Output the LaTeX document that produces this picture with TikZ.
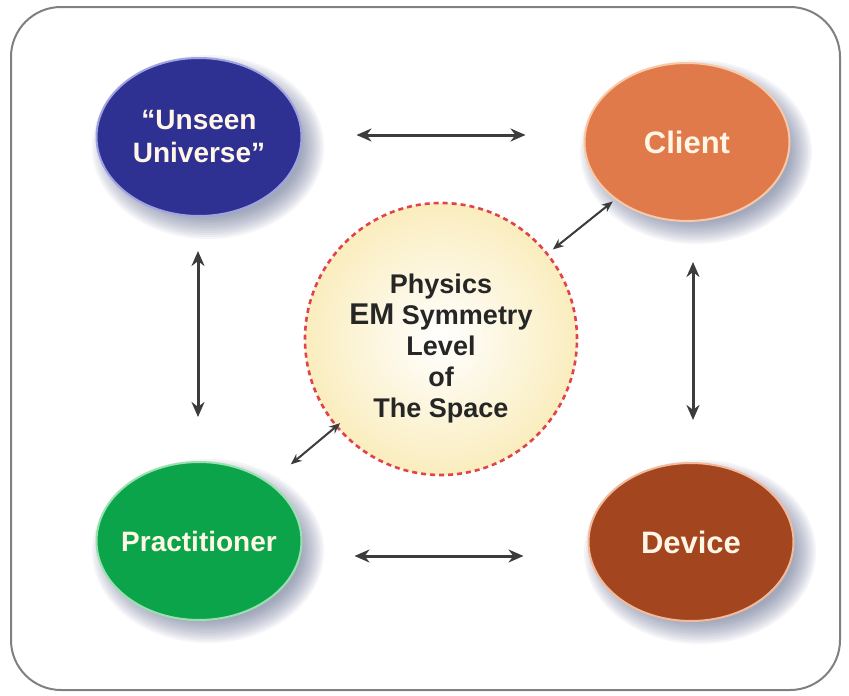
\documentclass[tikz,border=0pt]{standalone}
\usepackage{fontspec}
\setmainfont{Liberation Sans}
\usetikzlibrary{shapes.geometric,arrows.meta}
\definecolor{uublue}{HTML}{2E3192}
\definecolor{uuring}{HTML}{9FA3E0}
\definecolor{clorange}{HTML}{E07A4A}
\definecolor{clring}{HTML}{F8C9A8}
\definecolor{prgreen}{HTML}{0CA44B}
\definecolor{prring}{HTML}{9BE0B0}
\definecolor{dvbrown}{HTML}{A3461F}
\definecolor{dvring}{HTML}{F2B99A}
\definecolor{ccyellow}{HTML}{FAEDBE}
\definecolor{ccred}{HTML}{E2434A}
\definecolor{arrowgray}{HTML}{3C3C3C}
\definecolor{textcream}{HTML}{FFF6E6}
\definecolor{shadowcol}{HTML}{4A5A80}
\pgfdeclarelayer{bg}
\pgfsetlayers{bg,main}
\tikzset{
  bubble/.style={ellipse, minimum width=205pt, minimum height=158pt,
    inner xsep=-40pt, inner ysep=-20pt,
    line width=2pt, align=center, text=textcream,
    font=\fontsize{28}{33}\selectfont\bfseries},
  dart/.style={line width=3pt, draw=arrowgray,
    {Stealth[length=15pt,width=13pt]}-{Stealth[length=15pt,width=13pt]}},
  sdart/.style={line width=2pt, draw=arrowgray,
    {Stealth[length=11pt,width=9pt]}-{Stealth[length=11pt,width=9pt]}},
  frame/.style={draw=black!50, line width=2pt, rounded corners=50pt},
}
\newcommand{\softshadow}[1]{%
  \foreach \i in {0,...,11}{%
    \fill[shadowcol, opacity=0.055]
      ([shift={(9pt,-10pt)}]#1.center) ellipse ({104pt+12pt-2*\i pt} and {80pt+12pt-2*\i pt});
  }}
\begin{document}
\begin{tikzpicture}[x=1pt,y=-1pt]
\useasboundingbox (0,0) rectangle (849,696);

\node[bubble, fill=uublue, draw=uuring] (uu) at (199,137) {``Unseen\\Universe''};
\node[bubble, fill=clorange, draw=clring, font=\fontsize{31}{33}\selectfont\bfseries] (cl) at (687,142) {Client};
\node[bubble, fill=prgreen, draw=prring] (pr) at (199,541) {Practitioner};
\node[bubble, fill=dvbrown, draw=dvring, font=\fontsize{31}{33}\selectfont\bfseries] (dv) at (691,542) {Device};

\begin{pgfonlayer}{bg}
\fill[white] (0,0) rectangle (849,696);
\draw[frame] (11,7) rectangle (840,690);
\softshadow{uu}
\softshadow{cl}
\softshadow{pr}
\softshadow{dv}
\end{pgfonlayer}

\node[circle, minimum size=272pt, inner sep=0pt, inner color=white, outer color=ccyellow,
  draw=ccred, line width=2.6pt, dash pattern=on 5pt off 4pt, align=center,
  font=\fontsize{27}{31}\selectfont\bfseries, text=black!85] (cc) at (441,339)
  {\rule{0pt}{38pt}Physics\\{\fontsize{30}{31}\selectfont EM} Symmetry\\Level\\of\\The Space};

\draw[dart, shorten <=54pt, shorten >=58pt] ([yshift=2pt]uu.east) -- ([yshift=2pt]uu.east -| cl.west);
\draw[dart, shorten <=52pt, shorten >=64pt] ([yshift=-15pt]pr.east) -- ([yshift=-15pt]pr.east -| dv.west);
\draw[dart, shorten <=34pt, shorten >=44pt] ([xshift=-1pt]uu.south) -- ([xshift=-1pt]uu.south |- pr.north);
\draw[dart, shorten <=40pt, shorten >=42pt] ([xshift=6pt]cl.south) -- ([xshift=2pt]dv.north);
\draw[sdart, shorten <=6pt, shorten >=3pt] (cc) -- (cl);
\draw[sdart, shorten <=28pt, shorten >=-6pt] (pr) -- (cc);
\end{tikzpicture}
\end{document}
